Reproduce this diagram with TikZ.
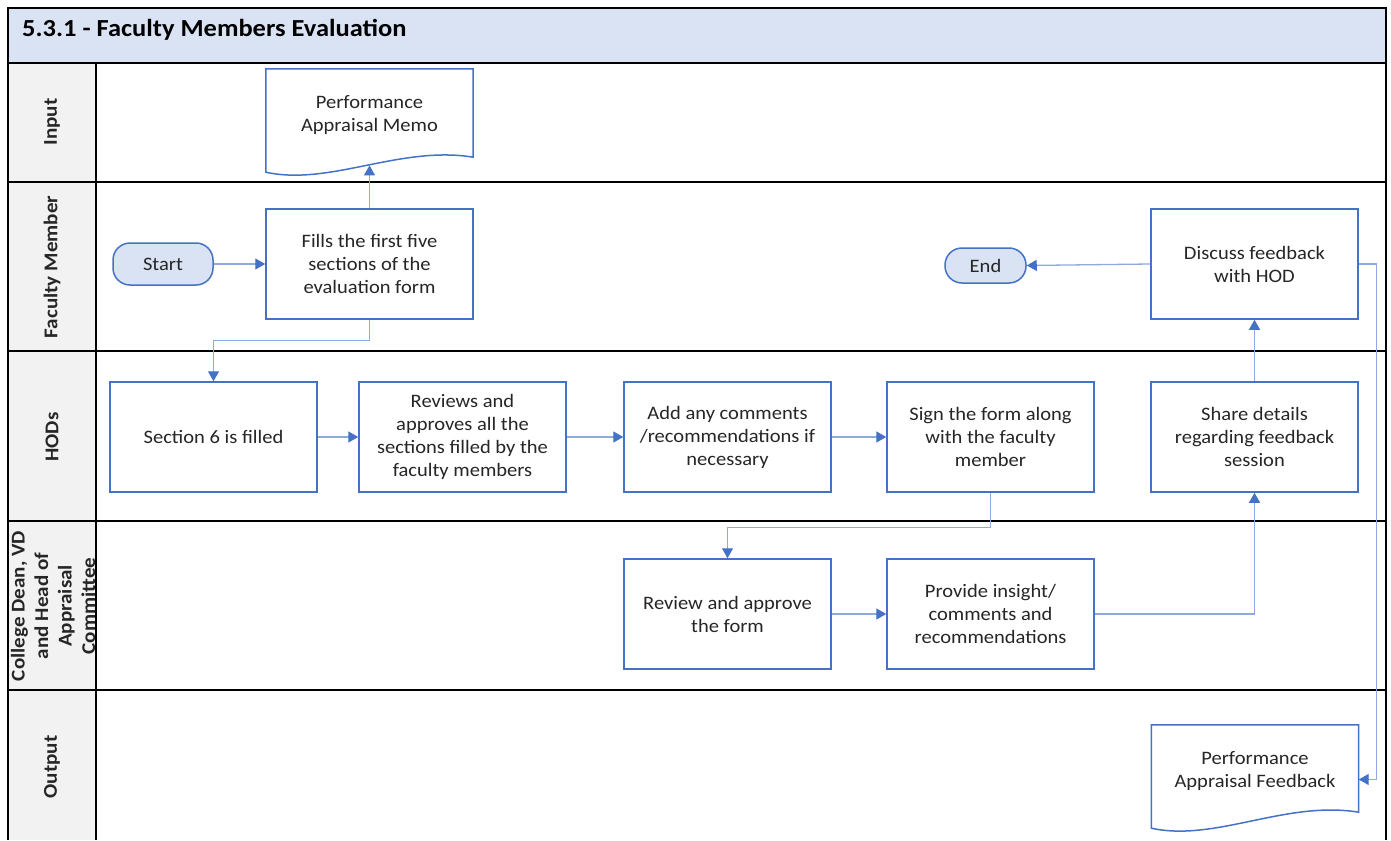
\documentclass[tikz,border=0pt]{standalone}
\usepackage{fontspec}
\setmainfont{Carlito}[FakeStretch=1.08]
\usetikzlibrary{arrows.meta,calc}
\definecolor{boxblue}{HTML}{4472C4}
\definecolor{lineblue}{HTML}{8FAADC}
\definecolor{titlefill}{HTML}{DAE3F3}
\definecolor{lanefill}{HTML}{F2F2F2}
\definecolor{txt}{HTML}{262626}
\begin{document}
\begin{tikzpicture}[x=1pt,y=-1pt,
  proc/.style={draw=boxblue,line width=1.5pt,fill=white,minimum width=207pt,minimum height=110pt,inner sep=0pt,align=center,text=txt,font=\fontsize{19}{23}\selectfont},
  term/.style={draw=boxblue,line width=1.5pt,fill=titlefill,rounded corners=17pt,inner sep=0pt,text=txt,font=\fontsize{19}{23}\selectfont},
  docnode/.style={minimum width=207pt,inner sep=0pt,align=center,text=txt,font=\fontsize{19}{23}\selectfont},
  docline/.style={draw=boxblue,line width=1.5pt},
  conn/.style={draw=lineblue,line width=1.3pt,-{Triangle[length=10pt,width=11pt,color=boxblue,fill=boxblue]}},
  lane/.style={draw=black,line width=2pt},
  lanelabel/.style={rotate=90,font=\bfseries\fontsize{19.5}{23.5}\selectfont,align=center,text=txt,inner sep=0pt}
]
\useasboundingbox (0,0) rectangle (1391,840);
% frame
\fill[titlefill] (8,8) rectangle (1386,63);
\fill[lanefill] (8,63) rectangle (96,840);
\draw[lane] (8,840) -- (8,8) -- (1386,8) -- (1386,840);
\foreach \yy in {63,182,351,521,690} \draw[lane] (8,\yy) -- (1386,\yy);
\draw[lane] (96,63) -- (96,840);
\node[anchor=west,font=\bfseries\fontsize{24.5}{28}\selectfont,text=black,inner sep=0pt] (title) at (22,30) {5.3.1 - Faculty Members Evaluation};
% lane labels
\node[lanelabel] (lin) at (52,122) {Input};
\node[lanelabel] (lfm) at (52,267) {Faculty Member};
\node[lanelabel] (lhod) at (52,437) {HODs};
\node[lanelabel] (lcd) at (53,606) {College Dean, VD\\and Head of\\Appraisal\\Committee};
\node[lanelabel] (lout) at (52,767) {Output};
% nodes
\node[docnode,minimum height=92pt] (memo) at (369.5,115) {Performance\\Appraisal Memo};
\draw[docline] ($(memo.south east)+(0,-4)$) .. controls +(-73,-12) and +(64,14) .. coordinate[pos=0.5] (memoin) ($(memo.south west)+(0,11)$) -- (memo.north west) -- (memo.north east) -- cycle;
\node[term,minimum width=100pt,minimum height=42pt] (start) at (163,264) {Start};
\node[proc] (fills) at (369.5,264) {Fills the first five\\sections of the\\evaluation form};
\node[term,minimum width=81pt,minimum height=35pt] (endn) at (985.5,265.5) {End};
\node[proc] (discuss) at (1254.5,264) {Discuss feedback\\with HOD};
\node[proc] (sec6) at (213.5,437) {Section 6 is filled};
\node[proc] (reviews) at (462.5,437) {Reviews and\\approves all the\\sections filled by the\\faculty members};
\node[proc] (addc) at (727.5,437) {Add any comments\\/recommendations if\\necessary};
\node[proc] (sign) at (990.5,437) {Sign the form along\\with the faculty\\member};
\node[proc] (share) at (1254.5,437) {Share details\\regarding feedback\\session};
\node[proc] (review) at (727.5,614) {Review and approve\\the form};
\node[proc] (provide) at (990.5,614) {Provide insight/\\comments and\\recommendations};
\node[docnode,minimum height=93pt] (feedback) at (1255,771.5) {Performance\\Appraisal Feedback};
\draw[docline] ($(feedback.south east)+(0,-6)$) .. controls +(-73,-12) and +(64,14) .. ($(feedback.south west)+(0,10)$) -- (feedback.north west) -- (feedback.north east) -- cycle;
\coordinate (fbin) at ($(feedback.east)+(0,8)$);
% connectors
\draw[conn] (start) -- (fills);
\draw[conn] (fills.north) -- (fills.north |- memoin);
\draw[conn] (fills.south) -- ++(0,21) -| (sec6.north);
\draw[conn] (sec6) -- (reviews);
\draw[conn] (reviews) -- (addc);
\draw[conn] (addc) -- (sign);
\draw[conn] (sign.south) -- ++(0,35) -| (review.north);
\draw[conn] (review) -- (provide);
\draw[conn] (provide.east) -| (share.south);
\draw[conn] (share.north) -- (discuss.south);
\draw[conn] (discuss.west) -- (endn.east);
\draw[conn] (discuss.east) -- ++(18,0) |- (fbin);
\end{tikzpicture}
\end{document}
